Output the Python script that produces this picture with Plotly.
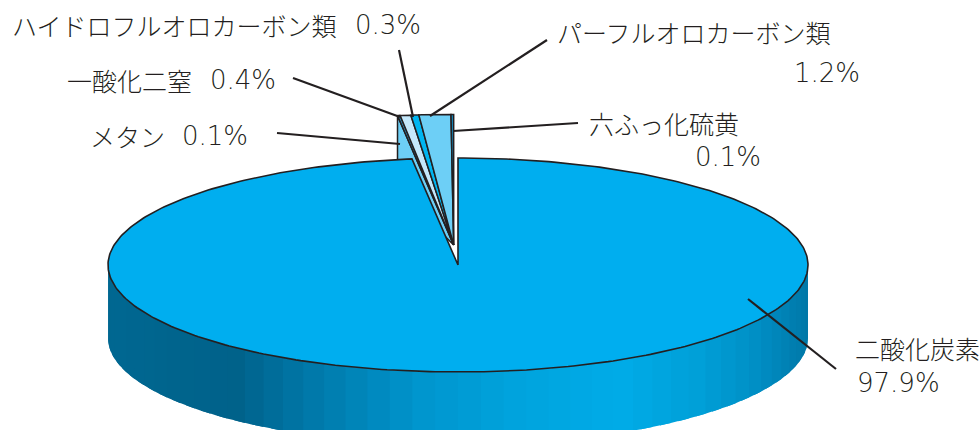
import numpy as np
import plotly.graph_objects as go

# ---------------- data ----------------
names = ["二酸化炭素", "メタン", "一酸化二窒", "ハイドロフルオロカーボン類", "パーフルオロカーボン類", "六ふっ化硫黄"]
values = [97.9, 0.1, 0.4, 0.3, 1.2, 0.1]
pct_labels = [f"{v:.1f}%" for v in values]
exploded = [False, True, True, True, True, True]

# ---------------- style ----------------
slice_colors = ["#00aeef", "#2a8fc4", "#c4e8fb", "#00b5f0", "#6dcff6", "#1488bd"]
wedge_side_color = "#6dcff6"
outline = "#231f20"
CX, CY, RX, RY, DEPTH = 458, 265, 350, 107, 73
EXPLODE_K = 0.187
WEDGE_SCALE = 1.22

# side gradient stops (x position -> rgb)
grad_x = [108, 235, 300, 420, 520, 620, 700, 760, 808]
grad_c = [(0, 104, 146), (0, 98, 138), (0, 118, 166), (0, 150, 206), (0, 164, 222),
          (0, 172, 232), (0, 160, 216), (0, 142, 196), (0, 120, 168)]

# label layout: (name x, name y, pct x, pct y) and leader lines
label_pos = {
    "二酸化炭素": (853, 348, 855, 383),
    "メタン": (88, 136, 180, 136),
    "一酸化二窒": (65, 80, 208, 80),
    "ハイドロフルオロカーボン類": (10, 25, 353, 25),
    "パーフルオロカーボン類": (555, 32, 792, 73),
    "六ふっ化硫黄": (587, 123, 693, 157),
}
leaders = {
    "二酸化炭素": (748, 299, 836, 369),
    "メタン": (277, 133, 400, 144),
    "一酸化二窒": (293, 78, 400, 117),
    "ハイドロフルオロカーボン類": (399, 50, 413, 117),
    "パーフルオロカーボン類": (547, 40, 430, 116),
    "六ふっ化硫黄": (578, 123, 453, 131),
}

# ---------------- geometry from data ----------------
frac = np.array(values) / np.sum(values)
bounds = np.concatenate([[0.0], np.cumsum(frac)]) * 2 * np.pi

def pt(theta, ax=CX, ay=CY, s=1.0):
    return ax + s * RX * np.sin(theta), ay - s * RY * np.cos(theta)

def color_at(x):
    r = np.interp(x, grad_x, [c[0] for c in grad_c])
    g = np.interp(x, grad_x, [c[1] for c in grad_c])
    b = np.interp(x, grad_x, [c[2] for c in grad_c])
    return f"rgb({int(r)},{int(g)},{int(b)})"

fig = go.Figure()

# exploded group
ex_idx = [i for i, e in enumerate(exploded) if e]
g0, g1 = bounds[ex_idx[0]], bounds[ex_idx[-1] + 1]
gm = (g0 + g1) / 2
AX = CX + EXPLODE_K * RX * np.sin(gm)
AY = CY - EXPLODE_K * RY * np.cos(gm)

# side face of the exploded group (left radial face)
plx, ply = pt(g0, AX, AY, WEDGE_SCALE)
fig.add_trace(go.Scatter(
    x=[AX, plx, plx, AX], y=[AY, ply, ply + DEPTH, AY],
    fill="toself", fillcolor=wedge_side_color, mode="lines",
    line=dict(color=outline, width=1.5), hoverinfo="skip"))

# exploded wedge tops
for i in ex_idx:
    th = np.linspace(bounds[i], bounds[i + 1], 12)
    xs, ys = pt(th, AX, AY, WEDGE_SCALE)
    fig.add_trace(go.Scatter(
        x=np.concatenate([[AX], xs, [AX]]), y=np.concatenate([[AY], ys, [AY]]),
        fill="toself", fillcolor=slice_colors[i], mode="lines",
        line=dict(color=outline, width=1.5), hoverinfo="skip"))

# main slice side (front half) with shading strips (overlapping to avoid seams)
a0, a1 = bounds[0], bounds[1]
side_start, side_end = max(a0, np.pi / 2), min(a1, 3 * np.pi / 2)
n_strips = 48
edges = np.linspace(side_start, side_end, n_strips + 1)
step = edges[1] - edges[0]
for k in range(n_strips):
    hi = min(edges[k + 1] + 0.6 * step, side_end)
    th = np.linspace(edges[k], hi, 6)
    xs, ys = pt(th)
    xm, _ = pt((edges[k] + edges[k + 1]) / 2)
    col = color_at(xm)
    fig.add_trace(go.Scatter(
        x=np.concatenate([xs, xs[::-1]]), y=np.concatenate([ys, ys[::-1] + DEPTH]),
        fill="toself", fillcolor=col, mode="none", hoverinfo="skip"))

# main slice top
th = np.linspace(a0, a1, 400)
xs, ys = pt(th)
fig.add_trace(go.Scatter(
    x=np.concatenate([[CX], xs, [CX]]), y=np.concatenate([[CY], ys, [CY]]),
    fill="toself", fillcolor=slice_colors[0], mode="lines",
    line=dict(color=outline, width=1.6), hoverinfo="skip"))

# leader lines and labels
shapes = []
annotations = []
jp_font = dict(family="Noto Sans CJK JP, Noto Sans, sans-serif", size=25, color="#231f20", weight=300)
num_font = dict(family="DejaVu Sans, Noto Sans, sans-serif", size=26, color="#231f20", weight=200)
for n, p in zip(names, pct_labels):
    x0, y0, x1, y1 = leaders[n]
    shapes.append(dict(type="line", xref="x", yref="y", x0=x0, y0=y0, x1=x1, y1=y1,
                       line=dict(color=outline, width=2.2), layer="above"))
    nx, ny, px, py = label_pos[n]
    annotations.append(dict(x=nx, y=ny, xref="x", yref="y", text=n, showarrow=False,
                            xanchor="left", yanchor="middle", font=jp_font))
    annotations.append(dict(x=px, y=py, xref="x", yref="y", text=p, showarrow=False,
                            xanchor="left", yanchor="middle", font=num_font))

fig.update_layout(
    width=979, height=430, margin=dict(l=0, r=0, t=0, b=0),
    paper_bgcolor="white", plot_bgcolor="white", showlegend=False,
    xaxis=dict(range=[0, 979], visible=False, fixedrange=True),
    yaxis=dict(range=[430, 0], visible=False, fixedrange=True),
    shapes=shapes, annotations=annotations,
)

fig.write_html("out.html", config={"displayModeBar": False},
               post_script="document.body.style.margin='0';document.body.style.overflow='hidden';")
